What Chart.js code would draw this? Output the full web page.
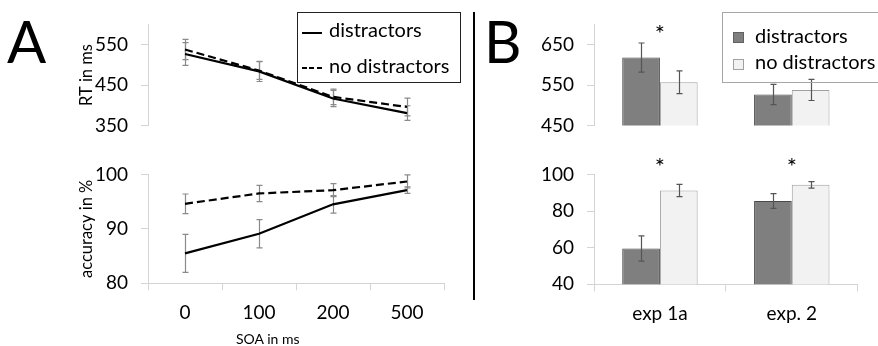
<!DOCTYPE html>
<html><head><meta charset="utf-8">
<script src="https://cdn.jsdelivr.net/npm/chart.js@4.4.1/dist/chart.umd.min.js"></script>
<style>
html,body{margin:0;padding:0;background:#fff;}
#wrap{position:relative;width:878px;height:346px;overflow:hidden;font-family:Lato,'DejaVu Sans',sans-serif;color:#000;}
canvas{position:absolute;}
.abs{position:absolute;white-space:nowrap;line-height:1;}
</style></head><body>
<div id="wrap">
  <canvas id="aTop" width="460" height="150" style="left:0;top:0"></canvas>
  <canvas id="aBot" width="460" height="196" style="left:0;top:150px"></canvas>
  <canvas id="bTop" width="408" height="150" style="left:470px;top:0"></canvas>
  <canvas id="bBot" width="408" height="196" style="left:470px;top:150px"></canvas>

  <div class="abs" style="left:7px;top:12px;font-size:58px;">A</div>
  <div class="abs" style="left:484px;top:12px;font-size:58px;">B</div>
  <div style="position:absolute;left:473px;top:12px;width:1.5px;height:288px;background:#000;"></div>
  <div class="abs" style="left:236px;top:332px;font-size:14px;">SOA in ms</div>

  <!-- legend A -->
  <div style="position:absolute;left:297px;top:12px;width:162px;height:69px;border:1px solid #222;"></div>
  <div style="position:absolute;left:302px;top:32px;width:20px;height:2px;background:#000;"></div>
  <div style="position:absolute;left:302px;top:67px;width:20px;height:2px;background:repeating-linear-gradient(90deg,#000 0 5px,transparent 5px 7.5px);"></div>
  <div class="abs" style="left:329px;top:19px;font-size:20px;">distractors</div>
  <div class="abs" style="left:329px;top:55px;font-size:20px;">no distractors</div>

  <!-- legend B -->
  <div style="position:absolute;left:722px;top:12px;width:170px;height:69px;border:1px solid #a6a6a6;"></div>
  <div style="position:absolute;left:733px;top:32px;width:9px;height:9px;background:#7f7f7f;border:1px solid #606060;"></div>
  <div style="position:absolute;left:733px;top:59px;width:9px;height:9px;background:#f2f2f2;border:1px solid #a0a0a0;"></div>
  <div class="abs" style="left:755px;top:24.5px;font-size:20px;">distractors</div>
  <div class="abs" style="left:755px;top:51px;font-size:20px;">no distractors</div>
</div>
<script>
// ---------- data ----------
const soaLabels = ['0', '100', '200', '500'];
const rtDistr = [527, 484, 417, 381];
const rtDistrErr = [28, 25, 20, 18];
const rtNoDistr = [538, 486, 421, 396];
const rtNoDistrErr = [25, 22, 19, 22];
const accDistr = [85.5, 89.1, 94.5, 97.1];
const accDistrErr = [3.5, 2.6, 1.6, 0.6];
const accNoDistr = [94.6, 96.5, 97.1, 98.7];
const accNoDistrErr = [1.8, 1.5, 1.2, 1.2];

const expLabels = ['exp 1a', 'exp. 2'];
const bRtDistr = [618, 527];
const bRtDistrErr = [36, 25];
const bRtNoDistr = [557, 538];
const bRtNoDistrErr = [28, 26];
const bAccDistr = [59.5, 85.5];
const bAccDistrErr = [6.9, 4.0];
const bAccNoDistr = [91.2, 94.3];
const bAccNoDistrErr = [3.3, 1.8];

const rtTicksA = [350, 450, 550];
const accTicksA = [80, 90, 100];
const rtTicksB = [450, 550, 650];
const accTicksB = [40, 60, 80, 100];
const sigRT = ['*', ''];
const sigAcc = ['*', '*'];

// ---------- setup ----------
Chart.defaults.font.family = "Lato, 'DejaVu Sans', sans-serif";
Chart.defaults.color = '#000';
const AXIS = '#d4d4d4';
const TICKFONT = {size: 19};

const errorBars = {
  id: 'errorBars',
  draw(chart, opts) {
    const {ctx} = chart;
    const ys = chart.scales.y;
    chart.data.datasets.forEach((ds, i) => {
      if (!ds.errors) return;
      const meta = chart.getDatasetMeta(i);
      ctx.save();
      ctx.strokeStyle = opts.color;
      ctx.lineWidth = opts.width;
      meta.data.forEach((el, j) => {
        const v = ds.data[j], e = ds.errors[j];
        const x = Math.round(el.x) + 0.5;
        const y1 = ys.getPixelForValue(v + e), y2 = ys.getPixelForValue(v - e);
        ctx.beginPath();
        ctx.moveTo(x, y1); ctx.lineTo(x, y2);
        ctx.moveTo(x - opts.cap, y1); ctx.lineTo(x + opts.cap, y1);
        ctx.moveTo(x - opts.cap, y2); ctx.lineTo(x + opts.cap, y2);
        ctx.stroke();
      });
      ctx.restore();
    });
  },
  beforeDatasetsDraw(chart, a, opts) { if (opts.under) this.draw(chart, opts); },
  afterDatasetsDraw(chart, a, opts) { if (!opts.under) this.draw(chart, opts); }
};

const stars = {
  id: 'stars',
  afterDraw(chart, a, opts) {
    if (!opts.marks) return;
    const {ctx} = chart;
    const m0 = chart.getDatasetMeta(0), m1 = chart.getDatasetMeta(1);
    ctx.save();
    ctx.font = "24px Lato, 'DejaVu Sans', sans-serif";
    ctx.fillStyle = '#000';
    ctx.textAlign = 'center';
    ctx.textBaseline = 'middle';
    opts.marks.forEach((m, j) => {
      if (!m) return;
      const x = (m0.data[j].x + m1.data[j].x) / 2;
      ctx.fillText(m, x, chart.chartArea.top + opts.dy);
    });
    ctx.restore();
  }
};
Chart.register(errorBars, stars);

function yAxis(min, max, ticks, width, title) {
  return {
    min, max,
    afterBuildTicks: s => { s.ticks = ticks.map(v => ({value: v})); },
    afterFit: s => { s.width = width; },
    grid: {drawOnChartArea: false, drawTicks: true, tickLength: 7, color: AXIS, lineWidth: 1},
    border: {display: true, color: AXIS, width: 1},
    ticks: {padding: 13, font: TICKFONT, color: '#000'},
    title: title ? {display: true, text: title, font: {size: 16.5}, color: '#000', padding: {top: 77, bottom: 0}} : {display: false}
  };
}
function xAxis(show, height) {
  if (!show) return {display: false, offset: true};
  return {
    offset: true,
    afterFit: s => { s.height = height; },
    grid: {offset: true, drawOnChartArea: false, drawTicks: true, tickLength: 7, color: AXIS, lineWidth: 1},
    border: {display: true, color: AXIS, width: 1},
    ticks: {padding: 11, font: TICKFONT, color: '#000', maxRotation: 0}
  };
}
const base = {responsive: false, animation: false, events: []};

function lineDs(label, data, errors, dashed) {
  return {label, data, errors, borderColor: '#000', borderWidth: 2.2, pointRadius: 0,
          borderDash: dashed ? [8, 4] : [], fill: false, tension: 0};
}

new Chart(document.getElementById('aTop'), {
  type: 'line',
  data: {labels: soaLabels, datasets: [
    lineDs('distractors', rtDistr, rtDistrErr, false),
    lineDs('no distractors', rtNoDistr, rtNoDistrErr, true)]},
  options: {...base,
    layout: {padding: {top: 21.7, right: 16, bottom: 7, left: 0}},
    scales: {x: xAxis(false), y: yAxis(350, 600, rtTicksA, 148, 'RT in ms')},
    plugins: {legend: {display: false}, tooltip: {enabled: false},
      errorBars: {color: '#8a8a8a', width: 1.2, cap: 3, under: true}}}
});

new Chart(document.getElementById('aBot'), {
  type: 'line',
  data: {labels: soaLabels, datasets: [
    lineDs('distractors', accDistr, accDistrErr, false),
    lineDs('no distractors', accNoDistr, accNoDistrErr, true)]},
  options: {...base,
    layout: {padding: {top: 18.3, right: 16, bottom: 0, left: 0}},
    scales: {x: xAxis(true, 62.7), y: yAxis(80, 100, accTicksA, 148, 'accuracy in %')},
    plugins: {legend: {display: false}, tooltip: {enabled: false},
      errorBars: {color: '#8a8a8a', width: 1.2, cap: 3, under: true}}}
});

function barDs(label, data, errors, dark) {
  return {label, data, errors,
    backgroundColor: dark ? '#7f7f7f' : '#f2f2f2',
    borderColor: dark ? '#4a4a4a' : '#a0a0a0',
    borderWidth: 1, categoryPercentage: 0.572, barPercentage: 1};
}

new Chart(document.getElementById('bTop'), {
  type: 'bar',
  data: {labels: expLabels, datasets: [
    barDs('distractors', bRtDistr, bRtDistrErr, true),
    barDs('no distractors', bRtNoDistr, bRtNoDistrErr, false)]},
  options: {...base,
    layout: {padding: {top: 22.5, right: 20.3, bottom: 6.7, left: 0}},
    scales: {x: xAxis(false), y: yAxis(450, 700, rtTicksB, 124, null)},
    plugins: {legend: {display: false}, tooltip: {enabled: false},
      errorBars: {color: '#555', width: 1.2, cap: 3, under: false},
      stars: {marks: sigRT, dy: 9.5}}}
});

new Chart(document.getElementById('bBot'), {
  type: 'bar',
  data: {labels: expLabels, datasets: [
    barDs('distractors', bAccDistr, bAccDistrErr, true),
    barDs('no distractors', bAccNoDistr, bAccNoDistrErr, false)]},
  options: {...base,
    layout: {padding: {top: 18.3, right: 20.3, bottom: 0, left: 0}},
    scales: {x: xAxis(true, 61.7), y: yAxis(40, 100, accTicksB, 124, null)},
    plugins: {legend: {display: false}, tooltip: {enabled: false},
      errorBars: {color: '#555', width: 1.2, cap: 3, under: false},
      stars: {marks: sigAcc, dy: -7}}}
});
</script>
</body></html>
